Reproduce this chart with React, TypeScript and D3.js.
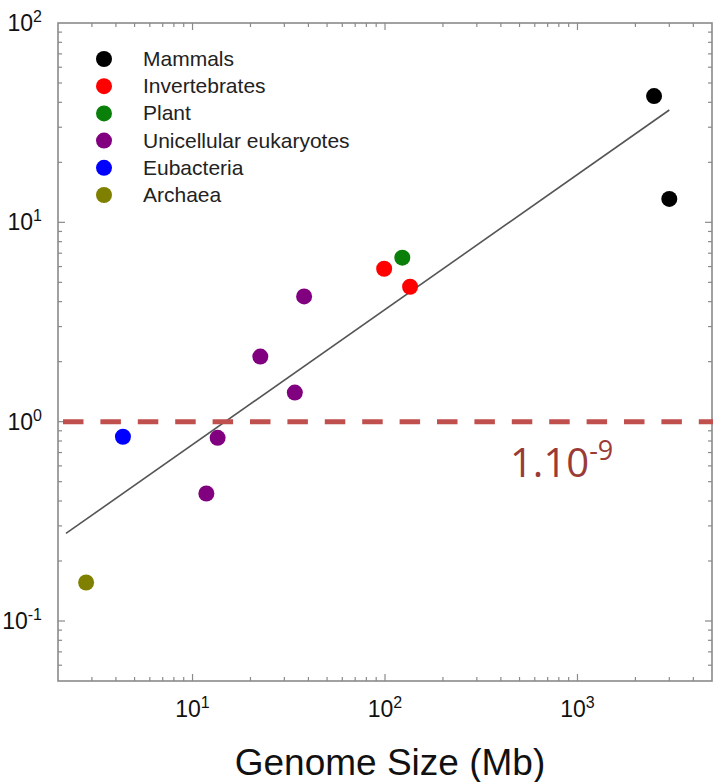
import React, { useEffect, useRef } from "react";
import * as d3 from "d3";

// legend groups
const groups = [
  "Mammals",
  "Invertebrates",
  "Plant",
  "Unicellular eukaryotes",
  "Eubacteria",
  "Archaea",
];
const groupColors = ["#000000", "#ff0000", "#0a7f0a", "#800080", "#0000ff", "#808000"];

// points (genome size in Mb, rate)
const genomeSize = [2500, 3000, 99, 135, 123, 38, 22.5, 34, 13.5, 11.8, 4.35, 2.8];
const mutationRate = [43, 13.1, 5.85, 4.75, 6.65, 4.25, 2.12, 1.4, 0.83, 0.436, 0.84, 0.156];
const pointGroup = [0, 0, 1, 1, 2, 3, 3, 3, 3, 3, 4, 5];

// regression line end points
const fitSize = [2.2, 3000];
const fitRate = [0.275, 36.6];

const threshold = 1;
const thresholdLabel = "1.10";
const thresholdExp = "-9";

const xTickExps = [1, 2, 3];
const yTickExps = [-1, 0, 1, 2];

const App = () => {
  const ref = useRef<SVGSVGElement>(null);

  useEffect(() => {
    const width = 715;
    const height = 782;
    const svg = d3.select(ref.current).attr("width", width).attr("height", height);
    svg.selectAll("*").remove();

    const x = d3.scaleLog().domain([2, 5000]).range([58, 712]);
    const y = d3.scaleLog().domain([0.05, 100]).range([681, 23]);
    const [x0, x1] = x.range();
    const [y1, y0] = y.range();

    const frameColor = "#8a8a8a";
    const isMajor = (v: number) => Math.abs(Math.log10(v) - Math.round(Math.log10(v))) < 1e-6;

    // frame
    svg
      .append("rect")
      .attr("x", x0)
      .attr("y", y0)
      .attr("width", x1 - x0)
      .attr("height", y1 - y0)
      .attr("fill", "none")
      .attr("stroke", frameColor)
      .attr("stroke-width", 1.6);

    // ticks, all pointing inward
    const xt = x.ticks().filter((v) => x(v) > x0 + 1 && x(v) < x1 - 1);
    const yt = y.ticks().filter((v) => y(v) > y0 + 1 && y(v) < y1 - 1);
    const tickG = svg.append("g").attr("stroke", frameColor).attr("stroke-width", 1.2);
    xt.forEach((v) => {
      const len = isMajor(v) ? 7 : 4;
      tickG.append("line").attr("x1", x(v)).attr("x2", x(v)).attr("y1", y1).attr("y2", y1 - len);
      tickG.append("line").attr("x1", x(v)).attr("x2", x(v)).attr("y1", y0).attr("y2", y0 + len);
    });
    yt.forEach((v) => {
      const len = isMajor(v) ? 7 : 4;
      tickG.append("line").attr("x1", x0).attr("x2", x0 + len).attr("y1", y(v)).attr("y2", y(v));
      tickG.append("line").attr("x1", x1).attr("x2", x1 - len).attr("y1", y(v)).attr("y2", y(v));
    });

    // tick labels
    const font = "'Liberation Sans', Arial, sans-serif";
    xTickExps.forEach((e) => {
      const t = svg
        .append("text")
        .attr("x", x(Math.pow(10, e)))
        .attr("y", 717)
        .attr("text-anchor", "middle")
        .attr("font-family", font)
        .attr("font-size", 23)
        .attr("fill", "#111");
      t.append("tspan").text("10");
      t.append("tspan").attr("font-size", 16).attr("dy", -9).text(String(e));
    });
    yTickExps.forEach((e) => {
      const t = svg
        .append("text")
        .attr("x", 42)
        .attr("y", y(Math.pow(10, e)) + 8)
        .attr("text-anchor", "end")
        .attr("font-family", font)
        .attr("font-size", 23)
        .attr("fill", "#111");
      t.append("tspan").text("10");
      t.append("tspan").attr("font-size", 16).attr("dy", -9).text(String(e));
    });

    // axis title
    svg
      .append("text")
      .attr("x", 390)
      .attr("y", 775)
      .attr("text-anchor", "middle")
      .attr("font-family", font)
      .attr("font-size", 37)
      .attr("fill", "#111")
      .text("Genome Size (Mb)");

    // regression line
    const line = d3
      .line<number>()
      .x((d, i) => x(fitSize[i]))
      .y((d) => y(d));
    svg
      .append("path")
      .attr("d", line(fitRate))
      .attr("fill", "none")
      .attr("stroke", "#555")
      .attr("stroke-width", 1.6);

    // points
    svg
      .selectAll(".pt")
      .data(genomeSize)
      .join("circle")
      .attr("class", "pt")
      .attr("cx", (d) => x(d))
      .attr("cy", (d, i) => y(mutationRate[i]))
      .attr("r", 8)
      .attr("fill", (d, i) => groupColors[pointGroup[i]]);

    // legend
    const leg = svg.append("g");
    groups.forEach((g, i) => {
      const cy = 59 + i * 27.2;
      leg.append("circle").attr("cx", 104).attr("cy", cy).attr("r", 8).attr("fill", groupColors[i]);
      leg
        .append("text")
        .attr("x", 143)
        .attr("y", cy + 7)
        .attr("font-family", font)
        .attr("font-size", 21)
        .attr("fill", "#222")
        .text(g);
    });

    // threshold dashed line
    svg
      .append("line")
      .attr("x1", x0 + 5)
      .attr("x2", x1 + 1)
      .attr("y1", y(threshold))
      .attr("y2", y(threshold))
      .attr("stroke", "#c0504d")
      .attr("stroke-width", 5)
      .attr("stroke-dasharray", "20.5,16.9");

    const lab = svg
      .append("text")
      .attr("x", 510)
      .attr("y", y(threshold) + 55)
      .attr("font-family", "'Open Sans', sans-serif")
      .attr("font-size", 40)
      .attr("fill", "#9b3b38");
    lab.append("tspan").text(thresholdLabel);
    lab.append("tspan").attr("font-size", 27).attr("dy", -17).text(thresholdExp);
  }, []);

  return (
    <div>
      <svg ref={ref} style={{ position: "absolute", left: 0, top: 0, background: "#fff" }}></svg>
    </div>
  );
};

export default App;
